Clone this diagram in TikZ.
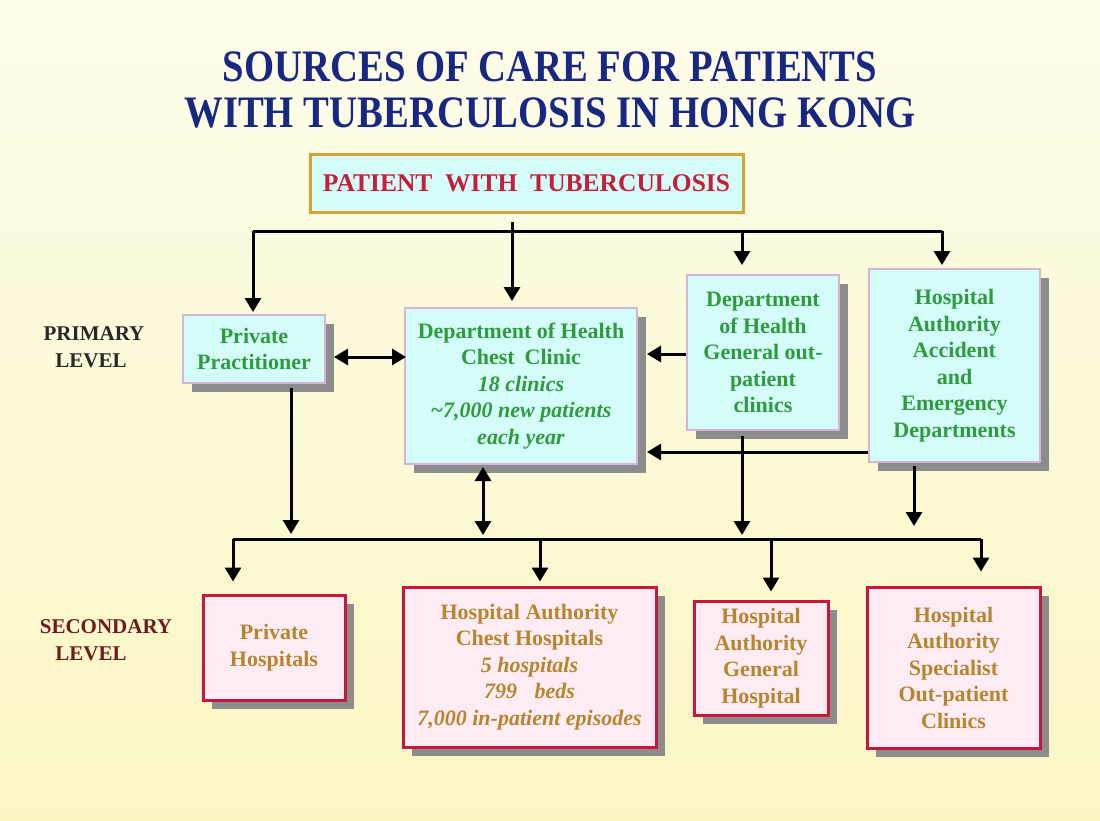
\documentclass[tikz,border=0pt]{standalone}
\usepackage{fontspec}
\setmainfont{Liberation Serif}
\newfontfamily\titlefont{Liberation Serif}[FakeStretch=0.86]
\usetikzlibrary{arrows.meta,shadows,calc}

\definecolor{bgtop}{RGB}{254,253,234}
\definecolor{bgbot}{RGB}{250,246,196}
\definecolor{titleblue}{RGB}{24,40,130}
\definecolor{patred}{RGB}{196,30,58}
\definecolor{patborder}{RGB}{217,160,58}
\definecolor{cyanfill}{RGB}{212,252,248}
\definecolor{pinkfill}{RGB}{253,236,243}
\definecolor{primborder}{RGB}{217,179,214}
\definecolor{secborder}{RGB}{200,22,60}
\definecolor{textgreen}{RGB}{46,155,62}
\definecolor{textgold}{RGB}{181,134,47}
\definecolor{shadowgray}{RGB}{140,140,140}
\definecolor{primlabel}{RGB}{40,40,40}
\definecolor{seclabel}{RGB}{110,27,27}

\newcommand\boxfont{\fontsize{22}{26.5}\selectfont\bfseries}
\newcommand\levelfont{\fontsize{21}{27}\selectfont\bfseries}

\begin{document}
\begin{tikzpicture}[x=1pt,y=-1pt,
  pbox/.style={draw=primborder, line width=2pt, fill=cyanfill, text=textgreen,
    inner sep=0pt, align=center, font=\boxfont,
    general shadow={fill=shadowgray, shadow xshift=9pt, shadow yshift=-9pt}},
  sbox/.style={draw=secborder, line width=3pt, fill=pinkfill, text=textgold,
    inner sep=0pt, align=center, font=\boxfont,
    general shadow={fill=shadowgray, shadow xshift=9pt, shadow yshift=-9pt}},
  ln/.style={draw=black, line width=3pt},
  arr/.style={ln, -{Triangle[length=14pt,width=16pt]}},
  dbl/.style={ln, {Triangle[length=14pt,width=16pt]}-{Triangle[length=14pt,width=16pt]}},
  levellabel/.style={align=center, font=\levelfont, inner sep=0pt}
]
% background
\shade[top color=bgtop, bottom color=bgbot] (0,0) rectangle (1100,820);
\useasboundingbox (0,0) rectangle (1100,820);

% title
\node[align=center, text=titleblue, font=\titlefont\fontsize{45}{46}\selectfont\bfseries, inner sep=0pt] (title) at (550,90)
  {SOURCES OF CARE FOR PATIENTS\\WITH TUBERCULOSIS IN HONG KONG};

% level labels
\node[levellabel, text=primlabel] (primary) at (94,347) {PRIMARY\\LEVEL\hspace*{6pt}};
\node[levellabel, text=seclabel] (secondary) at (106,640) {SECONDARY\\LEVEL\hspace*{30pt}};

% patient box
\node[draw=patborder, line width=3pt, fill=cyanfill, text=patred, inner sep=0pt,
  minimum width=433pt, minimum height=58pt, font=\fontsize{25.5}{28}\selectfont\bfseries]
  (pat) at (526.5,183) {PATIENT\hspace{0.5em}WITH\hspace{0.5em}TUBERCULOSIS};

% primary level boxes
\node[pbox, minimum width=142pt, minimum height=68pt] (pp) at (254,349)
  {Private\\Practitioner};
\node[pbox, minimum width=232pt, minimum height=156pt] (cc) at (521,386)
  {Department of Health\\Chest\hspace{0.45em}Clinic\\\textit{18 clinics}\\\textit{\textasciitilde7,000 new patients}\\\textit{each year}};
\node[pbox, minimum width=152pt, minimum height=155pt] (gopc) at (763,352.5)
  {Department\\of Health\\General out-\\patient\\clinics};
\node[pbox, minimum width=171pt, minimum height=193pt] (ae) at (954.5,365.5)
  {Hospital\\Authority\\Accident\\and\\Emergency\\Departments};

% secondary level boxes
\node[sbox, minimum width=142pt, minimum height=105pt] (ph) at (274,647.5)
  {Private\\Hospitals};
\node[sbox, minimum width=253pt, minimum height=160pt] (ch) at (529.5,667)
  {Hospital Authority\\Chest Hospitals\\\textit{5 hospitals}\\\textit{799\hspace{0.8em}beds}\\\textit{7,000 in-patient episodes}};
\node[sbox, minimum width=134pt, minimum height=114pt] (gh) at (761,658)
  {Hospital\\Authority\\General\\Hospital};
\node[sbox, minimum width=173pt, minimum height=161pt] (sp) at (953.5,667.5)
  {Hospital\\Authority\\Specialist\\Out-patient\\Clinics};

% top distribution bus
\coordinate (tb1) at (253,231);
\coordinate (tb2) at (942,231);
\coordinate (tb3) at (742,231);
\draw[ln] (tb1) -- (tb2);
\draw[arr] ([xshift=-14.5pt,yshift=-8pt]pat.south) -- ([xshift=-9pt,yshift=6pt]cc.north);
\draw[arr] (tb1) -- ([yshift=2pt]tb1 |- pp.north);
\draw[arr] (tb3) -- ([yshift=9pt]tb3 |- gopc.north);
\draw[arr] (tb2) -- ([yshift=3pt]tb2 |- ae.north);

% primary level links
\coordinate (a1) at ([xshift=8pt,yshift=-8pt]pp.east);
\draw[dbl] (a1) -- ([xshift=2pt]a1 -| cc.west);
\coordinate (a2) at ([yshift=-1.5pt]gopc.west);
\draw[arr] (a2) -- ([xshift=9pt]a2 -| cc.east);
\coordinate (a3) at ([yshift=-86.5pt]ae.west);
\draw[arr] (a3) -- ([xshift=9pt]a3 -| cc.east);

% bottom distribution bus
\coordinate (bb1) at (233,539);
\coordinate (bb2) at (981,539);
\coordinate (bb3) at (540,539);
\coordinate (bb4) at (771,539);
\draw[ln] (bb1) -- (bb2);

\coordinate (d1) at ([xshift=37pt,yshift=-4pt]pp.south);
\draw[arr] (d1) -- ([yshift=5pt]d1 |- bb1);
\coordinate (d2) at ([xshift=-38pt,yshift=-2pt]cc.south);
\draw[dbl] (d2) -- ([yshift=4pt]d2 |- bb1);
\coordinate (d3) at ([xshift=-21pt,yshift=-5pt]gopc.south);
\draw[arr] (d3) -- ([yshift=4pt]d3 |- bb1);
\coordinate (d4) at ([xshift=-40.5pt,yshift=-3pt]ae.south);
\draw[arr] (d4) -- ([yshift=13pt]d4 |- bb1);

\draw[arr] (bb1) -- ([yshift=12pt]bb1 |- ph.north);
\draw[arr] (bb3) -- ([yshift=4pt]bb3 |- ch.north);
\draw[arr] (bb4) -- ([yshift=8pt]bb4 |- gh.north);
\draw[arr] (bb2) -- ([yshift=14pt]bb2 |- sp.north);
\end{tikzpicture}
\end{document}
